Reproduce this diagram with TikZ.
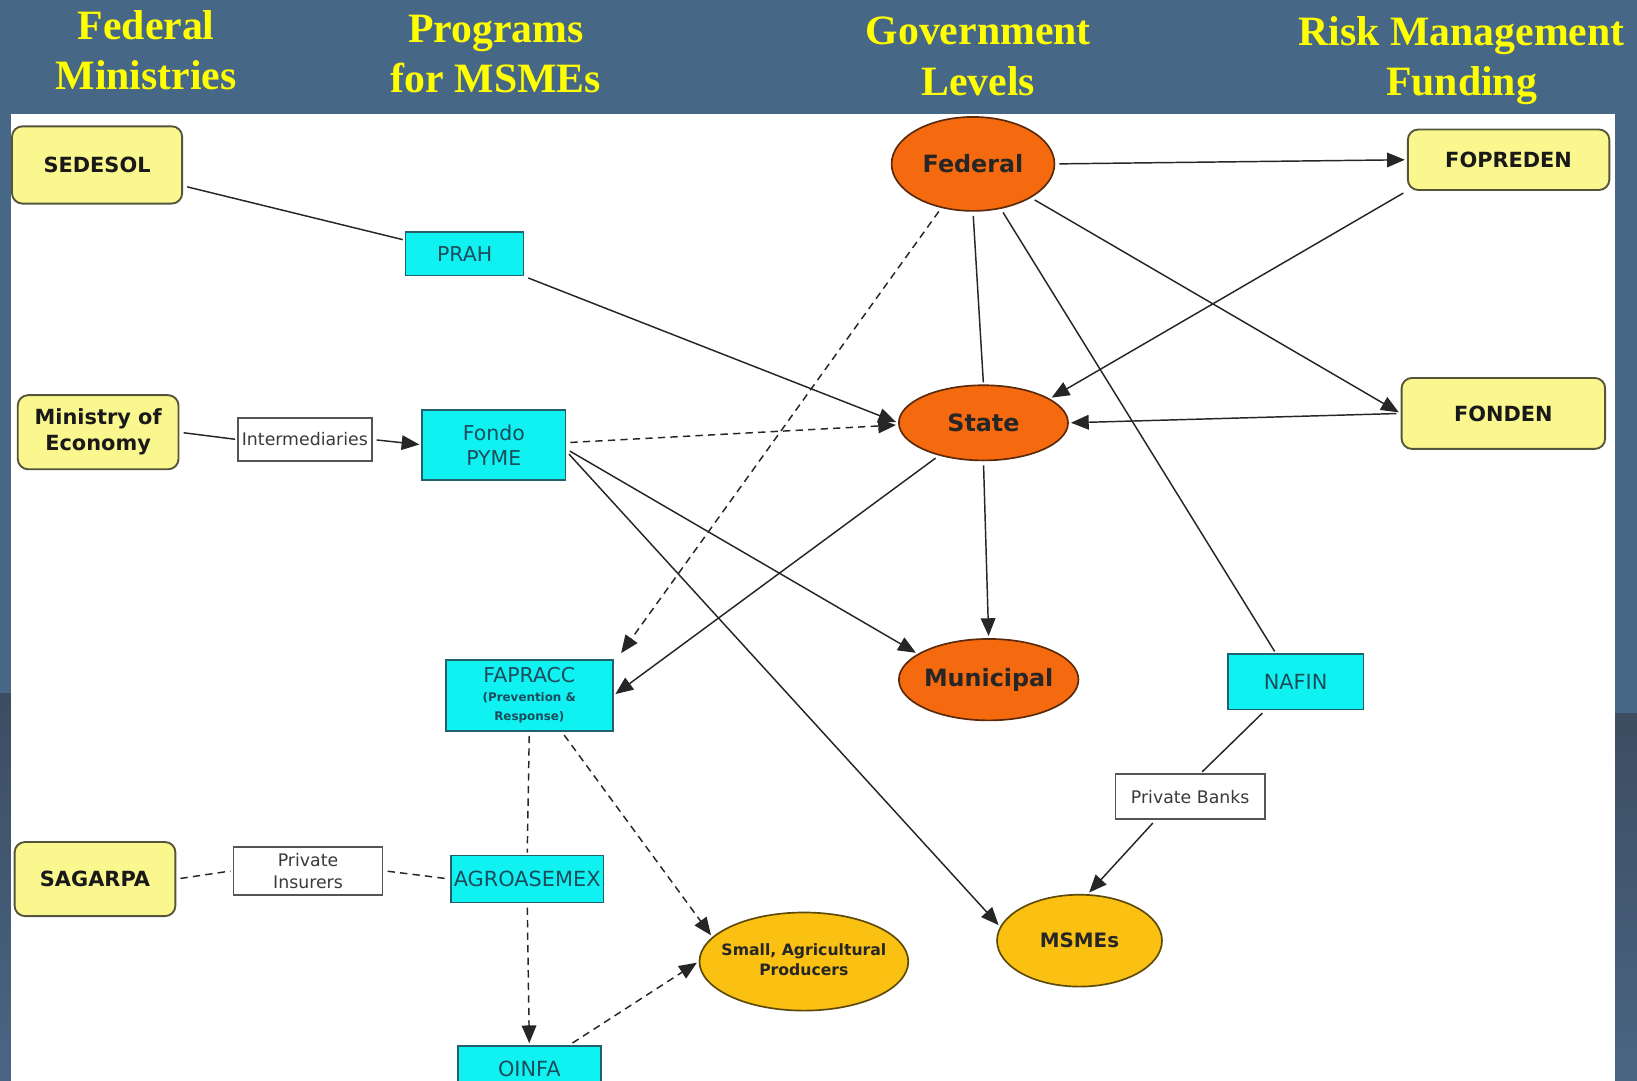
\documentclass[tikz,border=0pt]{standalone}
\usepackage{fontspec}
\setmainfont{DejaVu Sans}
\newfontfamily\hdrfont{Liberation Serif}
\usetikzlibrary{shapes.geometric, arrows.meta}
\definecolor{slate}{HTML}{476787}
\definecolor{stripdark}{HTML}{3C4D61}
\definecolor{stripbot}{HTML}{4A6583}
\definecolor{hdryellow}{HTML}{FFFF00}
\definecolor{yfill}{HTML}{FAF78E}
\definecolor{ybord}{HTML}{55553C}
\definecolor{cfill}{HTML}{10F2F2}
\definecolor{cbord}{HTML}{24606C}
\definecolor{ctext}{HTML}{1B4C5C}
\definecolor{wbord}{HTML}{555555}
\definecolor{wtext}{HTML}{3A3A3A}
\definecolor{ofill}{HTML}{F5690F}
\definecolor{obord}{HTML}{5A2A0A}
\definecolor{gfill}{HTML}{FAC012}
\definecolor{gbord}{HTML}{5E4A08}
\definecolor{lcol}{HTML}{262626}
\tikzset{
  hdr/.style={text=hdryellow, font=\hdrfont\bfseries\fontsize{20}{24}\selectfont, align=center, inner sep=0pt},
  ybox/.style={draw=ybord, fill=yfill, rounded corners=5pt, line width=0.9pt, text=black!90,
    font=\bfseries\fontsize{10}{12.5}\selectfont, align=center, inner sep=1pt},
  cbox/.style={draw=cbord, fill=cfill, line width=0.8pt, text=ctext,
    font=\fontsize{9.8}{12}\selectfont, align=center, inner sep=0.5pt},
  wbox/.style={draw=wbord, fill=white, line width=0.8pt, text=wtext,
    font=\fontsize{8.3}{10.5}\selectfont, align=center, inner sep=0.5pt},
  oell/.style={ellipse, draw=obord, fill=ofill, line width=0.8pt, inner sep=0pt,
    text=black!85, font=\bfseries\fontsize{11.4}{13}\selectfont},
  gell/.style={ellipse, draw=gbord, fill=gfill, line width=0.8pt, inner sep=0pt,
    text=black!85, font=\bfseries\fontsize{9.5}{11}\selectfont},
  ln/.style={draw=lcol, line width=0.7pt, shorten <=2pt, shorten >=1pt},
  ar/.style={ln, -{Triangle[length=8.5pt,width=7pt]}},
  dsh/.style={dash pattern=on 3.5pt off 2.5pt}
}
\begin{document}
\begin{tikzpicture}[x=0.5pt,y=-0.5pt]
\clip (0,0) rectangle (1568,1035);
\useasboundingbox (0,0) rectangle (1568,1035);
% background
\fill[slate] (0,0) rectangle (1568,1035);
\shade[top color=stripdark, bottom color=stripbot] (0,664) rectangle (11,1035);
\shade[top color=stripdark, bottom color=stripbot] (1547,683) rectangle (1568,1035);
\fill[white] (11,109) rectangle (1547,1035);

% headers
\node[hdr] (h1) at (140,48) {Federal\\Ministries};
\node[hdr] (h2) at (475,52) {Programs\\for MSMEs};
\node[hdr] (h3) at (937,54) {Government\\Levels};
\node[hdr] (h4) at (1400,58) {Risk Management\\Funding};

% yellow boxes
\node[ybox, minimum width=81.5pt, minimum height=37pt] (sed) at (93,158) {SEDESOL};
\node[ybox, minimum width=77pt, minimum height=35.5pt] (min) at (94,414) {Ministry of\\Economy};
\node[ybox, minimum width=77pt, minimum height=35.5pt] (sag) at (91,842) {SAGARPA};
\node[ybox, minimum width=96.5pt, minimum height=29pt] (fop) at (1445,153) {FOPREDEN};
\node[ybox, minimum width=97.5pt, minimum height=34pt] (fon) at (1440,396) {FONDEN};

% cyan boxes
\node[cbox, minimum width=56.5pt, minimum height=21pt] (prah) at (445,243) {PRAH};
\node[cbox, minimum width=68.5pt, minimum height=33.5pt] (fondo) at (473,426) {Fondo\\PYME};
\node[cbox, minimum width=80pt, minimum height=34pt, font=\fontsize{9.8}{9}\selectfont] (fap) at (507,666)
  {FAPRACC\\{\bfseries\fontsize{5.7}{9}\selectfont (Prevention \&}\\{\bfseries\fontsize{5.7}{9}\selectfont Response)}};
\node[cbox, minimum width=73pt, minimum height=22.5pt, font=\fontsize{10}{12}\selectfont] (agro) at (505,842) {AGROASEMEX};
\node[cbox, minimum width=68.5pt, minimum height=22pt, font=\fontsize{10}{12}\selectfont] (oinfa) at (507,1024) {OINFA};
\node[cbox, minimum width=65pt, minimum height=26.5pt, font=\fontsize{10}{12}\selectfont] (nafin) at (1241,653) {NAFIN};

% white boxes
\node[wbox, minimum width=64pt, minimum height=20.5pt] (int) at (292,421) {Intermediaries};
\node[wbox, minimum width=71.5pt, minimum height=23pt] (pi) at (295,834) {Private\\Insurers};
\node[wbox, minimum width=71.5pt, minimum height=21.5pt] (pb) at (1140,763) {Private Banks};

% ellipses
\node[oell, minimum width=78pt, minimum height=45pt] (fed) at (932,157) {\makebox[0pt]{Federal}};
\node[oell, minimum width=81pt, minimum height=36pt] (state) at (942,405) {\makebox[0pt]{State}};
\node[oell, minimum width=86pt, minimum height=39pt] (muni) at (947,651) {\makebox[0pt]{Municipal}};
\node[gell, minimum width=79pt, minimum height=44pt] (msme) at (1034,901) {\makebox[0pt]{MSMEs}};
\node[gell, minimum width=100pt, minimum height=47pt, font=\bfseries\fontsize{7.5}{9.5}\selectfont] (small) at (770,921)
  {\makebox[0pt]{\begin{tabular}{@{}c@{}}Small, Agricultural\\Producers\end{tabular}}};

% connectors
\draw[ln] ([yshift=-10pt]sed.east) -- ([yshift=6.5pt]prah.west);
\draw[ar] (prah.south east) -- (state.west);
\draw[ln] (min.east) -- (int.west);
\draw[ar] (int.east) -- (fondo.west);
\draw[ar, dsh] ([yshift=1pt]fondo.east) -- ([yshift=-1pt]state.west);
\draw[ar] ([yshift=-2pt]fondo.east) -- (muni.160);
\draw[ar] ([yshift=-3pt]fondo.east) -- (msme.170);
\draw[ar] (fed.east) -- (fop.west);
\draw[ln] (fed.south) -- (state.north);
\draw[ar] (fed) -- (fon.west);
\draw[ln] (fed) -- ([xshift=-9.5pt]nafin.north);
\draw[ar, dsh] (fed) -- ([xshift=3pt,yshift=2pt]fap.north east);
\draw[ar] (fop.south west) -- (state.20);
\draw[ar] (fon.west) -- (state.east);
\draw[ar] (state.south) -- (muni.north);
\draw[ar] (state) -- (fap.east);
\draw[ln, dsh] (fap.south) -- (agro.north);
\draw[ar, dsh] ([xshift=15.5pt]fap.south) -- (small.165);
\draw[ar, dsh] (agro.south) -- (oinfa.north);
\draw[ar, dsh] ([xshift=19pt]oinfa.north) -- (small.west);
\draw[ln, dsh] (sag.east) -- (pi.west);
\draw[ln, dsh] (pi.east) -- (agro.west);
\draw[ln] ([xshift=-14.5pt]nafin.south) -- ([xshift=5pt]pb.north);
\draw[ar] ([xshift=-16.5pt]pb.south) -- (msme.80);
\end{tikzpicture}
\end{document}
